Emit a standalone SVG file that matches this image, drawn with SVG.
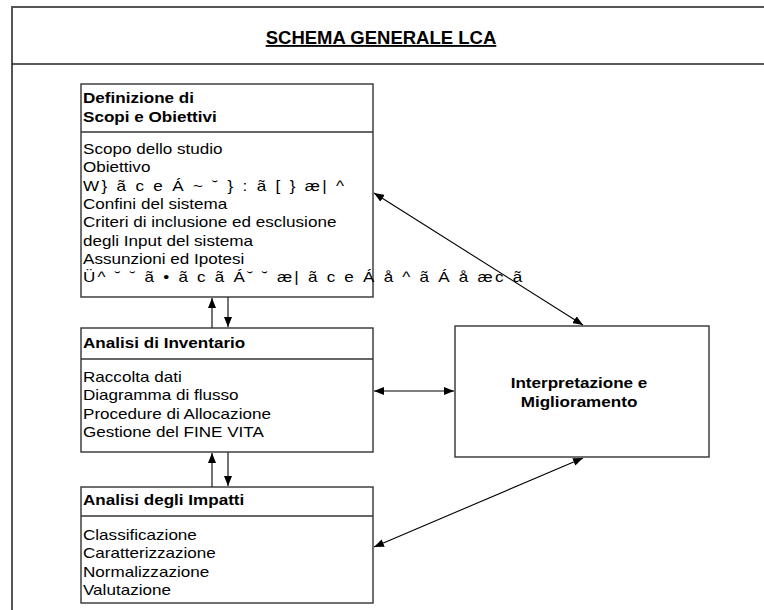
<svg xmlns="http://www.w3.org/2000/svg" width="764" height="610" viewBox="0 0 764 610">
<style>
.frame{fill:none;stroke:#555;stroke-width:2}
.box{fill:#fff;stroke:#333;stroke-width:1.4}
.div{stroke:#333;stroke-width:1.4}
.hd{font-family:"Liberation Sans",Arial,sans-serif;font-size:14px;font-weight:bold;fill:#000}
.tx{font-family:"Liberation Sans",Arial,sans-serif;font-size:14px;fill:#000}
.title{font-family:"Liberation Sans",Arial,sans-serif;font-size:18.5px;font-weight:bold;fill:#000;text-decoration:underline}
.con{stroke:#000;stroke-width:1.1;fill:none}
</style>
<defs>
<marker id="ah" viewBox="0 0 10 8" refX="10" refY="4" markerWidth="10" markerHeight="8" markerUnits="userSpaceOnUse" orient="auto-start-reverse">
<path d="M0,0 L10,4 L0,8 Z" fill="#000"/>
</marker>
</defs>
<rect width="764" height="610" fill="#fff"/>
<g id="frame">
<path class="frame" d="M12,612 V7 H766"/>
<line x1="12" y1="64" x2="766" y2="64" stroke="#222" stroke-width="1.6"/>
<text class="title" x="381" y="44" text-anchor="middle">SCHEMA GENERALE LCA</text>
</g>
<g id="connectors">
<line class="con" x1="212" y1="328" x2="212" y2="298" marker-end="url(#ah)"/>
<line class="con" x1="228" y1="297" x2="228" y2="327" marker-end="url(#ah)"/>
<line class="con" x1="212" y1="487" x2="212" y2="453" marker-end="url(#ah)"/>
<line class="con" x1="228" y1="452" x2="228" y2="486" marker-end="url(#ah)"/>
<line class="con" x1="374" y1="391" x2="454" y2="391" marker-start="url(#ah)" marker-end="url(#ah)"/>
<line class="con" x1="374" y1="193" x2="583" y2="325" marker-start="url(#ah)" marker-end="url(#ah)"/>
<line class="con" x1="374" y1="547" x2="583" y2="458" marker-start="url(#ah)" marker-end="url(#ah)"/>
</g>
<g id="definizione">
<rect class="box" x="81" y="84" width="292" height="213"/>
<line class="div" x1="81" y1="132" x2="373" y2="132"/>
<g transform="translate(83 0) scale(1.22 1)">
<text class="hd" x="0" y="103">Definizione di</text>
<text class="hd" x="0" y="122">Scopi e Obiettivi</text>
<text class="tx" x="0" y="154">Scopo dello studio</text>
<text class="tx" x="0" y="172.5">Obiettivo</text>
<text class="tx" x="0" y="191" textLength="214" lengthAdjust="spacing">W} ã c e Á ~ ˘ } : ã [ } æ| ^</text>
<text class="tx" x="0" y="209">Confini del sistema</text>
<text class="tx" x="0" y="227.5">Criteri di inclusione ed esclusione</text>
<text class="tx" x="0" y="246">degli Input del sistema</text>
<text class="tx" x="0" y="264">Assunzioni ed Ipotesi</text>
<text class="tx" x="0" y="282.5" textLength="360" lengthAdjust="spacing">Ü^ ˘ ˘ ã • ã c ã Á˘ ˘ æ| ã c e Á å ^ ã Á å æc ã</text>
</g>
</g>
<g id="inventario">
<rect class="box" x="81" y="328" width="292" height="124"/>
<line class="div" x1="81" y1="359" x2="373" y2="359"/>
<g transform="translate(83 0) scale(1.22 1)">
<text class="hd" x="0" y="348">Analisi di Inventario</text>
<text class="tx" x="0" y="382">Raccolta dati</text>
<text class="tx" x="0" y="400.5">Diagramma di flusso</text>
<text class="tx" x="0" y="419">Procedure di Allocazione</text>
<text class="tx" x="0" y="437.5">Gestione del FINE VITA</text>
</g>
</g>
<g id="impatti">
<rect class="box" x="81" y="487" width="292" height="116"/>
<line class="div" x1="81" y1="516" x2="373" y2="516"/>
<g transform="translate(83 0) scale(1.22 1)">
<text class="hd" x="0" y="505">Analisi degli Impatti</text>
<text class="tx" x="0" y="540">Classificazione</text>
<text class="tx" x="0" y="558.5">Caratterizzazione</text>
<text class="tx" x="0" y="577">Normalizzazione</text>
<text class="tx" x="0" y="595">Valutazione</text>
</g>
</g>
<g id="interpretazione">
<rect class="box" x="455" y="326" width="254" height="131"/>
<g transform="translate(579 0) scale(1.22 1)">
<text class="hd" x="0" y="388" text-anchor="middle">Interpretazione e</text>
<text class="hd" x="0" y="407" text-anchor="middle">Miglioramento</text>
</g>
</g>
</svg>
